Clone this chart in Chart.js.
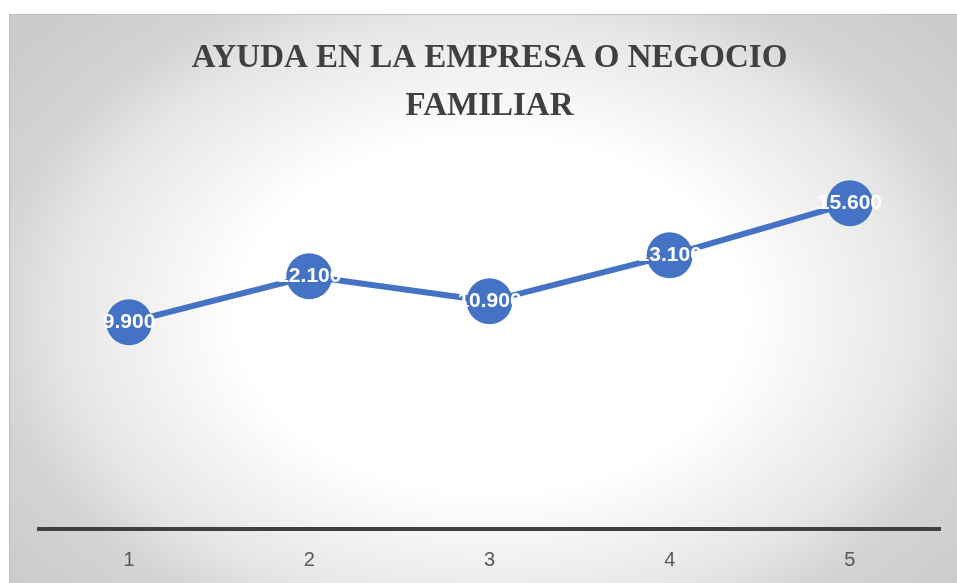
<!DOCTYPE html>
<html>
<head>
<meta charset="utf-8">
<script src="https://cdn.jsdelivr.net/npm/chart.js@4/dist/chart.umd.min.js"></script>
<style>
  html, body { margin: 0; padding: 0; background: #ffffff; }
  #wrap { position: relative; width: 957px; height: 583px; overflow: hidden; }
  #bg {
    position: absolute; left: 9px; top: 14px; width: 948px; height: 569px;
    box-sizing: border-box;
    border-top: 1px solid #c0c0c0; border-left: 1px solid #bdbdbd;
    background: radial-gradient(ellipse 600px 420px at 481px 300px, #ffffff 0%, #ffffff 42%, #e6e6e6 71%, #d4d4d4 83%, #cccccc 100%);
  }
  #c { position: absolute; left: 0; top: 0; }
</style>
</head>
<body>
<div id="wrap">
  <div id="bg"></div>
  <canvas id="c" width="957" height="583"></canvas>
</div>
<script>
const titleLines = ["AYUDA EN LA EMPRESA O NEGOCIO", "FAMILIAR"];
const categories = ["1", "2", "3", "4", "5"];
const values = [9900, 12100, 10900, 13100, 15600];
const yMin = 0;
const yMax = 19100;

const LINE_COLOR = "#4472C4";

function fmt(v) {
  return String(Math.round(v)).replace(/\B(?=(\d{3})+(?!\d))/g, ".");
}

const labelPlugin = {
  id: "pointLabels",
  afterDatasetsDraw(chart) {
    const ctx = chart.ctx;
    const meta = chart.getDatasetMeta(0);
    const data = chart.data.datasets[0].data;
    ctx.save();
    ctx.font = "bold 21px 'Liberation Sans', Arial, sans-serif";
    ctx.fillStyle = "#ffffff";
    ctx.textAlign = "center";
    ctx.textBaseline = "middle";
    meta.data.forEach((pt, i) => {
      ctx.fillText(fmt(data[i]), pt.x, pt.y);
    });
    ctx.restore();
  }
};

new Chart(document.getElementById("c"), {
  type: "line",
  data: {
    labels: categories,
    datasets: [
      {
        data: values,
        borderColor: LINE_COLOR,
        borderWidth: 6,
        tension: 0,
        fill: false,
        pointRadius: 23,
        pointHoverRadius: 23,
        pointBackgroundColor: LINE_COLOR,
        pointBorderWidth: 0,
        pointBorderColor: LINE_COLOR
      }
    ]
  },
  options: {
    responsive: false,
    animation: false,
    events: [],
    layout: { autoPadding: false, padding: { left: 39, right: 17, top: 0, bottom: 12 } },
    plugins: {
      legend: { display: false },
      tooltip: { enabled: false },
      title: {
        display: true,
        text: titleLines,
        color: "#404040",
        font: { family: "'Liberation Serif', 'Times New Roman', serif", size: 33, weight: "bold", lineHeight: 1.44 },
        padding: { top: 35, bottom: 0 }
      }
    },
    scales: {
      x: {
        offset: true,
        grid: { display: false, drawTicks: false },
        border: { display: true, color: "#404040", width: 4 },
        ticks: {
          color: "#595959",
          padding: 19,
          font: { family: "'Liberation Sans', Arial, sans-serif", size: 20 }
        },
        afterFit(scale) { scale.height = 42; }
      },
      y: {
        display: false,
        min: yMin,
        max: yMax
      }
    }
  },
  plugins: [labelPlugin]
});
</script>
</body>
</html>
